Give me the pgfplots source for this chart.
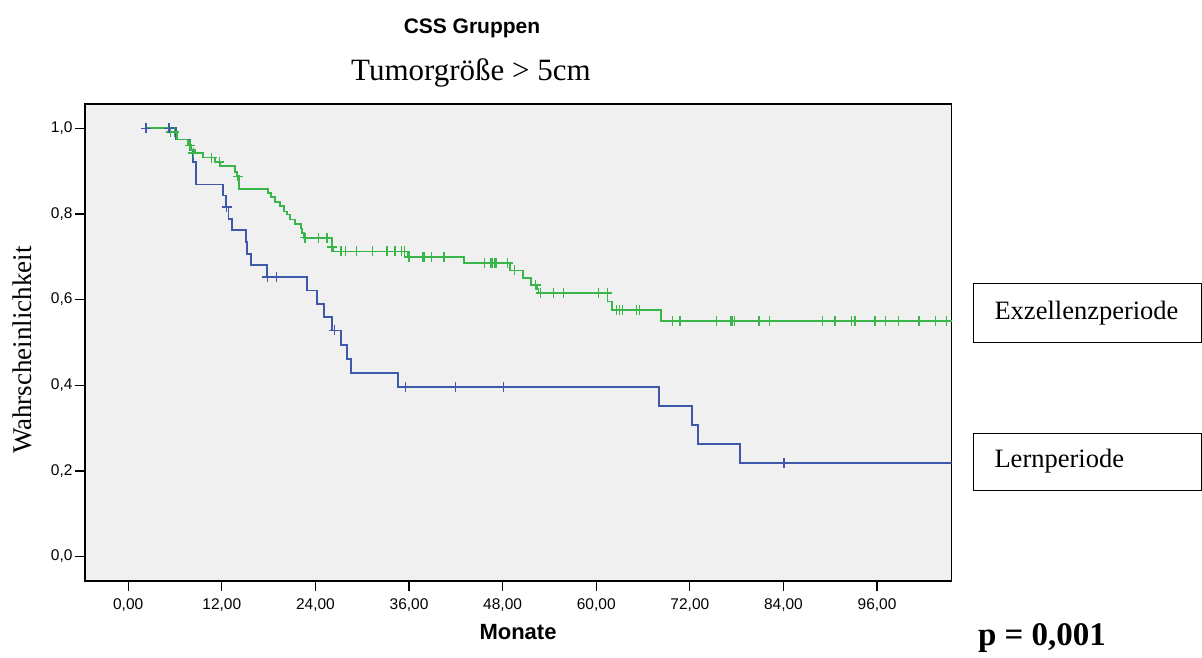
\documentclass[border=0pt]{standalone}
\usepackage{pgfplots}
\pgfplotsset{compat=1.18}
\usepackage{fontspec}
\setmainfont{Liberation Serif}
\setsansfont{Liberation Sans}
\definecolor{kmgreen}{RGB}{56,182,74}
\definecolor{kmblue}{RGB}{62,88,172}
\definecolor{plotbg}{RGB}{240,240,240}
\begin{document}
\begin{tikzpicture}
\useasboundingbox (0,0) rectangle (1202pt,657pt);
\begin{axis}[
  at={(85pt,76.2pt)}, anchor=south west,
  scale only axis, width=866.7pt, height=476.8pt,
  xmin=-5.54, xmax=105.57, ymin=-0.0567, ymax=1.0567,
  axis background/.style={fill=plotbg},
  axis line style={line width=1.5pt, black},
  xtick={0,12,24,36,48,60,72,84,96},
  ytick={0,0.2,0.4,0.6,0.8,1.0},
  tick align=outside, major tick length=10pt,
  every tick/.style={line width=1.3pt, black},
  xtick pos=bottom, ytick pos=left,
  /pgf/number format/assume math mode=true,
  xticklabel style={/pgf/number format/.cd, fixed, fixed zerofill, precision=2, use comma},
  yticklabel style={/pgf/number format/.cd, fixed, fixed zerofill, precision=1, use comma},
  ticklabel style={font=\sffamily\fontsize{15.5}{18}\selectfont},
  xticklabel shift=4pt, yticklabel shift=-1pt,
  clip=true,
]
% Lernperiode (blue)
\addplot[const plot, kmblue, line width=1.7pt] coordinates {
(2.28,1.0) (6.09,0.9736) (7.92,0.9486) (8.35,0.921) (8.69,0.8685) (12.19,0.843) (12.5,0.816) (12.85,0.788) (13.27,0.762) (15.06,0.734) (15.19,0.707) (15.74,0.680) (17.83,0.653) (22.96,0.6215) (24.21,0.5904) (25.14,0.559) (26.09,0.528) (27.28,0.4946) (28.01,0.462) (28.53,0.428) (34.63,0.3956) (68.01,0.351) (72.32,0.307) (73.01,0.262) (78.44,0.219) (105.57,0.219)
};
% Exzellenzperiode (green)
\addplot[const plot, kmgreen, line width=1.7pt] coordinates {
(2.28,1.0) (5.27,0.9914) (6.22,0.9736) (7.63,0.9603) (8.05,0.9486) (8.56,0.9423) (9.55,0.9315) (11.13,0.9213) (11.77,0.9119) (13.69,0.8979) (13.99,0.8879) (14.24,0.859) (17.96,0.849) (18.27,0.8395) (18.82,0.8278) (19.46,0.8178) (19.97,0.806) (20.32,0.799) (20.74,0.7867) (21.38,0.7773) (22.12,0.7657) (22.28,0.7554) (22.54,0.7446) (26.09,0.7227) (26.29,0.7126) (35.91,0.6993) (43.09,0.6853) (48.92,0.6682) (50.65,0.6507) (51.60,0.6339) (52.37,0.6255) (52.58,0.6157) (61.45,0.5958) (61.99,0.5755) (68.27,0.5498) (105.57,0.5498)
};
% green censored
\addplot[only marks, mark=+, mark size=5pt, kmgreen, mark options={line width=1.4pt}] coordinates {
(5.45,0.9914) (5.91,0.9914) (7.92,0.9603) (8.35,0.9423) (10.71,0.9315) (11.68,0.9213) (14.04,0.8879)
(22.67,0.7446) (24.42,0.7446) (25.47,0.7446) (26.09,0.7227)
(27.28,0.7126) (27.88,0.7126) (29.29,0.7126) (31.35,0.7126) (33.18,0.7126) (34.21,0.7126) (35.06,0.7126) (35.45,0.7126)
(36.0,0.6993) (37.76,0.6993) (37.92,0.6993) (38.85,0.6993) (40.49,0.6993)
(45.65,0.6853) (46.51,0.6853) (46.73,0.6853) (46.94,0.6853) (47.15,0.6853) (48.63,0.6853)
(49.55,0.6682) (52.22,0.6339)
(52.88,0.6157) (54.55,0.6157) (55.78,0.6157) (60.27,0.6157) (61.42,0.6157)
(62.63,0.5755) (62.95,0.5755) (63.33,0.5755) (65.17,0.5755) (65.51,0.5755)
(69.81,0.5498) (70.74,0.5498) (75.45,0.5498) (77.28,0.5498) (77.50,0.5498) (77.71,0.5498) (80.87,0.5498) (82.19,0.5498) (89.04,0.5498) (90.62,0.5498) (92.76,0.5498) (93.18,0.5498) (95.74,0.5498) (97.12,0.5498) (98.73,0.5498) (101.29,0.5498) (101.42,0.5498) (103.53,0.5498) (104.94,0.5498)
};
% blue censored
\addplot[only marks, mark=+, mark size=5pt, kmblue, mark options={line width=1.4pt}] coordinates {
(2.28,1.0) (5.23,1.0) (12.6,0.816) (17.83,0.653) (19.04,0.653) (26.42,0.528) (35.58,0.3956) (41.94,0.3956) (48.09,0.3956) (84.08,0.219)
};
\end{axis}
\node[font=\sffamily\bfseries\fontsize{21}{24}\selectfont] at (472pt,629pt) {CSS Gruppen};
\node[font=\fontsize{31}{36}\selectfont] at (471pt,584pt) {Tumorgröße > 5cm};
\node[font=\fontsize{27}{31}\selectfont, rotate=90] at (22pt,307pt) {Wahrscheinlichkeit};
\node[font=\sffamily\bfseries\fontsize{22}{26}\selectfont] at (518pt,25pt) {Monate};
\draw[line width=1pt] (973pt,315pt) rectangle (1201.5pt,373pt);
\node[anchor=west, font=\fontsize{26.5}{31}\selectfont] at (991pt,344pt) {Exzellenzperiode};
\draw[line width=1pt] (973pt,167pt) rectangle (1201.5pt,224pt);
\node[anchor=west, font=\fontsize{26.5}{31}\selectfont] at (991pt,195.5pt) {Lernperiode};
\node[font=\bfseries\fontsize{33}{38}\selectfont] at (1042pt,19pt) {p = 0,001};
\end{tikzpicture}
\end{document}
